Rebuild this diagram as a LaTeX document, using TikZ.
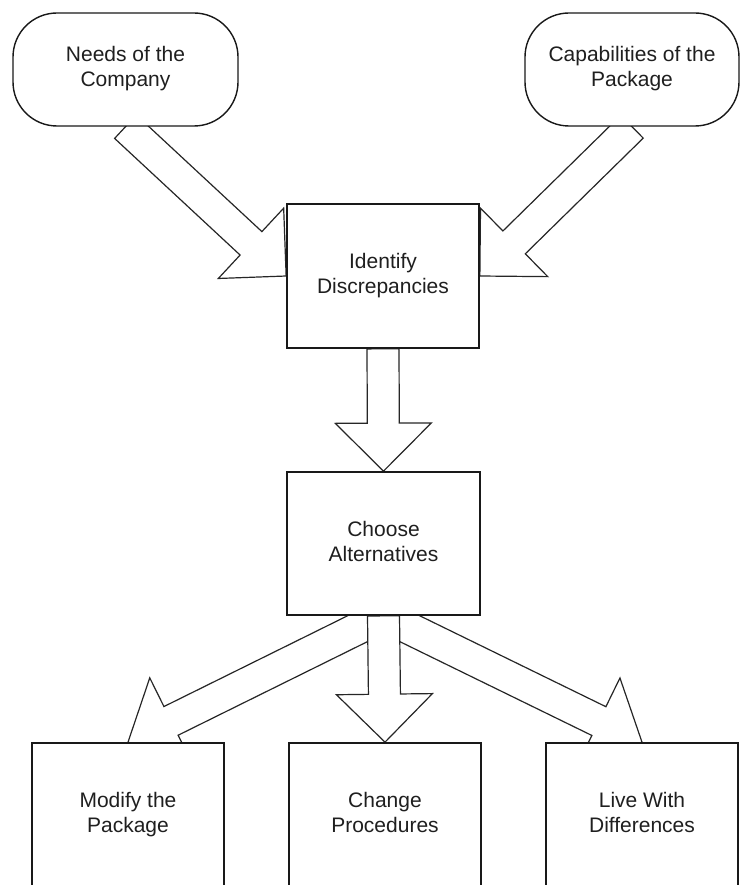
\documentclass[tikz,border=0pt]{standalone}
\usepackage{fontspec}
\setmainfont{Liberation Sans}
\usetikzlibrary{calc,backgrounds}

% block arrow from #1 (tail) to #2 (tip): shaft 32pt wide, head 96pt wide, 48pt long
\newcommand\blockarrow[2]{%
  \coordinate (ba-c) at ($(#2)!48pt!(#1)$);
  \draw[blockarr]
    ($(#1)!16pt!90:(#2)$) --
    ($(ba-c)!16pt!90:(#2)$) --
    ($(ba-c)!48pt!90:(#2)$) --
    (#2) --
    ($(ba-c)!48pt!-90:(#2)$) --
    ($(ba-c)!16pt!-90:(#2)$) --
    ($(#1)!16pt!-90:(#2)$) -- cycle;
}
% two-line label with even line boxes
\newcommand\twolines[2]{\strut #1\\\strut #2}

\tikzset{
  every node/.style={font=\fontsize{21}{25}\selectfont, text=black!88, align=center, inner sep=0pt},
  stepbox/.style={draw=black!90, line width=1.7pt, fill=white, minimum width=192pt, minimum height=144pt},
  source/.style={draw=black!90, line width=1.4pt, fill=white, rounded corners=44pt, minimum height=113pt},
  blockarr/.style={draw=black!85, line width=1.2pt, fill=white, line join=miter},
}

\begin{document}
\begin{tikzpicture}[x=1pt, y=-1pt]
  \useasboundingbox (0,0) rectangle (740,885);
  \clip (0,0) rectangle (740,885);

  % sources
  \node[source, minimum width=225pt] (needs) at (125.5,69.5) {\twolines{Needs of the}{Company}};
  \node[source, minimum width=214pt] (caps) at (632,69.5) {\twolines{Capabilities of the}{Package}};

  % process steps
  \node[stepbox] (ident) at (383,276) {\twolines{Identify}{Discrepancies}};
  \node[stepbox, minimum width=193pt, minimum height=143pt] (choose) at (383.5,543.5) {\twolines{Choose}{Alternatives}};

  % alternatives
  \node[stepbox] (modify) at (128,815) {\twolines{Modify the}{Package}};
  \node[stepbox] (change) at (385,815) {\twolines{Change}{Procedures}};
  \node[stepbox] (live) at (642,815) {\twolines{Live With}{Differences}};

  % connectors, kept behind the boxes
  \begin{scope}[on background layer]
    \blockarrow{needs.south}{ident.west}
    \blockarrow{caps.south}{ident.east}
    \blockarrow{ident.south}{choose.north}
    \blockarrow{choose.south}{modify.north}
    \blockarrow{choose.south}{live.north}
    \blockarrow{choose.south}{change.north}
  \end{scope}
\end{tikzpicture}
\end{document}
